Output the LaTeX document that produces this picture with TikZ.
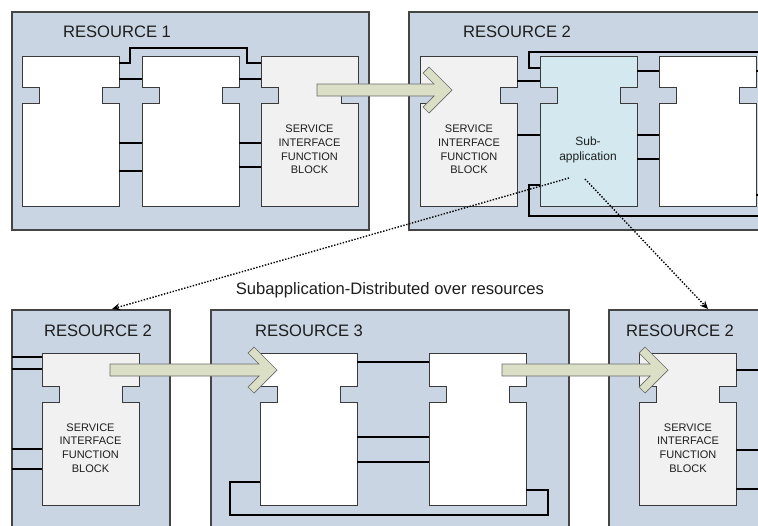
\documentclass[tikz,border=0pt]{standalone}
\usepackage{fontspec}
\setmainfont{Liberation Sans}
\usetikzlibrary{calc,arrows.meta}
\definecolor{resfill}{HTML}{C9D5E3}
\definecolor{resdraw}{HTML}{454545}
\definecolor{fbdraw}{HTML}{3A3A3A}
\definecolor{sifbfill}{HTML}{F1F1F1}
\definecolor{subfill}{HTML}{D3E9EF}
\definecolor{arrfill}{HTML}{DADFC6}
\definecolor{arrdraw}{HTML}{6A6A6A}
\definecolor{txt}{HTML}{1E1E1E}
\tikzset{
  res/.style={draw=resdraw, fill=resfill, line width=1.1pt, inner sep=0pt, outer sep=0pt, anchor=north west},
  reslabel/.style={text=txt, font=\fontsize{16.6}{19}\selectfont, inner sep=0pt},
  fbline/.style={draw=fbdraw, line width=0.8pt, line join=miter},
  conn/.style={draw=black, line width=1.5pt},
  sifbtext/.style={text=txt, font=\fontsize{11}{13.8}\selectfont, align=center, inner sep=0pt},
  subtext/.style={text=txt, font=\fontsize{12}{15}\selectfont, align=center, inner sep=0pt},
  bigarr/.style={draw=arrdraw, fill=arrfill, line width=0.7pt, line join=miter},
  distarrow/.style={draw=black, line width=1.4pt, dash pattern=on 1.4pt off 1.6pt, -{Stealth[length=8pt,width=7pt]}},
}
\newcommand\fblock[7]{%
  \node[inner sep=0pt, outer sep=0pt, minimum width=97pt, minimum height=#5pt, anchor=north west] (#1) at (#2,#3) {};
  \draw[fbline, fill=#4, shift={(#2,#3)}] (0,0) -- (97,0) -- (97,#6) -- (80,#6) -- (80,#7) -- (97,#7) -- (97,#5) -- (0,#5) -- (0,#7) -- (17,#7) -- (17,#6) -- (0,#6) -- cycle;
}
\newcommand\bigarrow[2]{%
  \draw[bigarr] ($(#1)+(0,-6)$) -- ($(#2)+(-18,-6)$) -- ($(#2)+(-29,-17)$) -- ($(#2)+(-23,-23)$) -- (#2) -- ($(#2)+(-23,23)$) -- ($(#2)+(-29,17)$) -- ($(#2)+(-18,6)$) -- ($(#1)+(0,6)$) -- cycle;
}
\begin{document}
\begin{tikzpicture}[x=1pt, y=-1pt]
\useasboundingbox (0,0) rectangle (758,525);
\clip (0,0) rectangle (758,525);
\fill[white] (0,0) rectangle (758,525);
\coordinate (edgeR) at (762,0);

% resources
\node[res, minimum width=357pt, minimum height=218pt] (r1) at (12,12) {};
\node[res, minimum width=361pt, minimum height=218pt] (r2t) at (409,12) {};
\node[res, minimum width=158pt, minimum height=230pt] (r2l) at (12,310) {};
\node[res, minimum width=358pt, minimum height=230pt] (r3) at (211,310) {};
\node[res, minimum width=161pt, minimum height=230pt] (r2r) at (609,310) {};

\node[reslabel] (l1) at (117,32) {RESOURCE 1};
\node[reslabel] (l2) at (517,32) {RESOURCE 2};
\node[reslabel] (l3) at (98,331) {RESOURCE 2};
\node[reslabel] (l4) at (309,331) {RESOURCE 3};
\node[reslabel] (l5) at (680,331) {RESOURCE 2};

% function blocks
\fblock{a1}{22}{56}{white}{150}{31}{47}
\fblock{b1}{142}{56}{white}{150}{31}{47}
\fblock{c1}{261}{56}{sifbfill}{150}{31}{47}
\fblock{s2}{420}{56}{sifbfill}{150}{31}{47}
\fblock{sub}{540}{56}{subfill}{150}{31}{47}
\fblock{t2}{659}{56}{white}{150}{31}{47}
\fblock{sl}{42}{353}{sifbfill}{152}{33}{49}
\fblock{a3}{260}{353}{white}{152}{33}{49}
\fblock{b3}{429}{353}{white}{152}{33}{49}
\fblock{sr}{639}{353}{sifbfill}{152}{33}{49}

\node[sifbtext] (tc1) at (309.5,149.5) {SERVICE\\INTERFACE\\FUNCTION\\BLOCK};
\node[sifbtext] (ts2) at (469,149.5) {SERVICE\\INTERFACE\\FUNCTION\\BLOCK};
\node[sifbtext] (tsl) at (90.5,448) {SERVICE\\INTERFACE\\FUNCTION\\BLOCK};
\node[sifbtext] (tsr) at (688,448) {SERVICE\\INTERFACE\\FUNCTION\\BLOCK};
\node[subtext] (tsub) at (588,150) {Sub-\\application};

% connections resource 1
\draw[conn] (a1.east |- 0,63) -- (130,63) -- (130,48) -- (247,48) -- (247,63) -- (c1.west |- 0,63);
\foreach \yy in {79,143,171} \draw[conn] (a1.east |- 0,\yy) -- (b1.west |- 0,\yy);
\foreach \yy in {79,143,167} \draw[conn] (b1.east |- 0,\yy) -- (c1.west |- 0,\yy);
% connections resource 2 (top)
\foreach \yy in {81,135} \draw[conn] (s2.east |- 0,\yy) -- (sub.west |- 0,\yy);
\draw[conn] (sub.west |- 0,68) -- (529,68) -- (529,52) -- (edgeR |- 0,52);
\draw[conn] (sub.west |- 0,185) -- (529,185) -- (529,216) -- (edgeR |- 0,216);
\foreach \yy in {71,135,159} \draw[conn] (sub.east |- 0,\yy) -- (t2.west |- 0,\yy);
\foreach \yy in {71,195} \draw[conn] (t2.east |- 0,\yy) -- (edgeR |- 0,\yy);
% bottom left
\foreach \yy in {357,369,449,469} \draw[conn] (r2l.west |- 0,\yy) -- (sl.west |- 0,\yy);
% resource 3
\foreach \yy in {362,437,462} \draw[conn] (a3.east |- 0,\yy) -- (b3.west |- 0,\yy);
\draw[conn] (a3.west |- 0,482) -- (230,482) -- (230,515) -- (548,515) -- (548,490) -- (b3.east |- 0,490);
% bottom right
\foreach \yy in {370,450,489} \draw[conn] (sr.east |- 0,\yy) -- (edgeR |- 0,\yy);

% big arrows
\coordinate (ar1s) at (317,90);
\coordinate (ar1t) at (452,90);
\coordinate (ar2s) at (110,370);
\coordinate (ar2t) at (277,370);
\coordinate (ar3s) at (502,370);
\coordinate (ar3t) at (668,370);
\bigarrow{ar1s}{ar1t}
\bigarrow{ar2s}{ar2t}
\bigarrow{ar3s}{ar3t}

% distribution arrows
\coordinate (d1s) at (569,178);
\coordinate (d2s) at (585,179);
\coordinate (d1e) at (112,309);
\coordinate (d2e) at (708,309);
\draw[distarrow] (d1s) -- (d1e);
\draw[distarrow] (d2s) -- (d2e);
\node[text=txt, font=\fontsize{16.6}{19}\selectfont, inner sep=0pt] (cap) at (390,290) {Subapplication-Distributed over resources};
\end{tikzpicture}
\end{document}
